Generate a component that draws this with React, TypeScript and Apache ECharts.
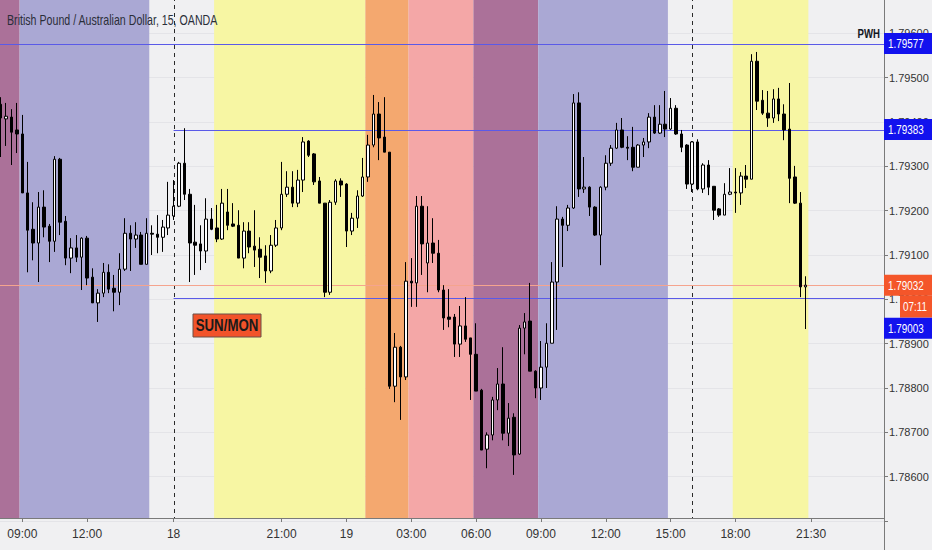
import React, { useEffect, useRef } from "react";
import * as echarts from "echarts";

const FONT = "'Liberation Sans', Arial, sans-serif";

// 15-minute candles, GBP/AUD
const opens = [
  1.79440, 1.79407, 1.79411, 1.79382, 1.79373, 1.79240, 1.79158, 1.79127, 1.79208, 1.79165,
  1.79131, 1.79316, 1.79176, 1.79093, 1.79116, 1.79095, 1.79138, 1.79050, 1.78992, 1.79014,
  1.79061, 1.79025, 1.79016, 1.79068, 1.79149, 1.79136, 1.79145, 1.79079, 1.79149, 1.79147,
  1.79140, 1.79161, 1.79188, 1.79210, 1.79307, 1.79237, 1.79129, 1.79125, 1.79109, 1.79181,
  1.79161, 1.79136, 1.79197, 1.79170, 1.79167, 1.79093, 1.79154, 1.79120, 1.79113, 1.79098,
  1.79064, 1.79122, 1.79161, 1.79237, 1.79253, 1.79217, 1.79269, 1.79357, 1.79328, 1.79267,
  1.79217, 1.79016, 1.79219, 1.79267, 1.79260, 1.79154, 1.79183, 1.79233, 1.79276, 1.79348,
  1.79418, 1.79366, 1.79332, 1.78804, 1.78892, 1.78825, 1.79041, 1.79037, 1.79210, 1.79082,
  1.79127, 1.79104, 1.79021, 1.78960, 1.78960, 1.78899, 1.78940, 1.78913, 1.78876, 1.78795,
  1.78662, 1.78694, 1.78773, 1.78809, 1.78698, 1.78734, 1.78651, 1.78935, 1.78951, 1.78838,
  1.78800, 1.78847, 1.78901, 1.79039, 1.79181, 1.79167, 1.79206, 1.79443, 1.79249, 1.79253,
  1.79208, 1.79145, 1.79253, 1.79307, 1.79341, 1.79382, 1.79343, 1.79343, 1.79298, 1.79348,
  1.79355, 1.79411, 1.79375, 1.79395, 1.79384, 1.79431, 1.79373, 1.79348, 1.79260, 1.79355,
  1.79249, 1.79303, 1.79255, 1.79204, 1.79190, 1.79237, 1.79242, 1.79240, 1.79278, 1.79271,
  1.79537, 1.79449, 1.79420, 1.79409, 1.79452, 1.79418, 1.79384, 1.79276, 1.79217, 1.79028,
];
const closes = [
  1.79409, 1.79413, 1.79377, 1.79373, 1.79240, 1.79156, 1.79127, 1.79208, 1.79163, 1.79131,
  1.79316, 1.79174, 1.79093, 1.79116, 1.79095, 1.79138, 1.79048, 1.78992, 1.79014, 1.79061,
  1.79023, 1.79016, 1.79068, 1.79149, 1.79136, 1.79145, 1.79079, 1.79149, 1.79147, 1.79140,
  1.79163, 1.79190, 1.79210, 1.79307, 1.79237, 1.79127, 1.79122, 1.79109, 1.79181, 1.79158,
  1.79136, 1.79217, 1.79167, 1.79165, 1.79093, 1.79154, 1.79118, 1.79111, 1.79095, 1.79064,
  1.79122, 1.79161, 1.79237, 1.79253, 1.79217, 1.79269, 1.79355, 1.79325, 1.79265, 1.79217,
  1.79016, 1.79219, 1.79267, 1.79258, 1.79154, 1.79183, 1.79233, 1.79276, 1.79348, 1.79418,
  1.79364, 1.79332, 1.78804, 1.78892, 1.78825, 1.79041, 1.79037, 1.79210, 1.79125, 1.79127,
  1.79104, 1.79021, 1.78958, 1.78955, 1.78899, 1.78940, 1.78910, 1.78876, 1.78793, 1.78660,
  1.78694, 1.78773, 1.78809, 1.78698, 1.78732, 1.78649, 1.78935, 1.78949, 1.78838, 1.78800,
  1.78847, 1.78901, 1.79039, 1.79181, 1.79167, 1.79206, 1.79443, 1.79249, 1.79253, 1.79208,
  1.79145, 1.79253, 1.79307, 1.79341, 1.79382, 1.79343, 1.79341, 1.79298, 1.79348, 1.79355,
  1.79411, 1.79375, 1.79395, 1.79384, 1.79431, 1.79373, 1.79343, 1.79260, 1.79355, 1.79249,
  1.79303, 1.79253, 1.79201, 1.79190, 1.79237, 1.79242, 1.79240, 1.79278, 1.79271, 1.79537,
  1.79447, 1.79420, 1.79409, 1.79452, 1.79418, 1.79382, 1.79273, 1.79217, 1.79028, 1.79032,
];
const lows = [
  1.79321, 1.79346, 1.79303, 1.79330, 1.79240, 1.79061, 1.79088, 1.79039, 1.79140, 1.79084,
  1.79107, 1.79145, 1.79077, 1.79059, 1.79084, 1.79021, 1.79032, 1.78992, 1.78949, 1.79005,
  1.79014, 1.78973, 1.78987, 1.79064, 1.79064, 1.79116, 1.79079, 1.79079, 1.79100, 1.79104,
  1.79107, 1.79145, 1.79179, 1.79208, 1.79224, 1.79039, 1.79055, 1.79066, 1.79082, 1.79156,
  1.79129, 1.79134, 1.79156, 1.79163, 1.79093, 1.79070, 1.79104, 1.79073, 1.79048, 1.79037,
  1.79059, 1.79118, 1.79156, 1.79231, 1.79208, 1.79208, 1.79242, 1.79321, 1.79258, 1.79217,
  1.79005, 1.79010, 1.79213, 1.79231, 1.79118, 1.79145, 1.79161, 1.79231, 1.79265, 1.79343,
  1.79314, 1.79332, 1.78798, 1.78768, 1.78728, 1.78818, 1.78983, 1.78983, 1.79055, 1.79016,
  1.79082, 1.79016, 1.78931, 1.78937, 1.78870, 1.78870, 1.78904, 1.78773, 1.78793, 1.78660,
  1.78619, 1.78682, 1.78750, 1.78682, 1.78669, 1.78604, 1.78649, 1.78876, 1.78838, 1.78777,
  1.78773, 1.78800, 1.78901, 1.78931, 1.79073, 1.79154, 1.79204, 1.79231, 1.79240, 1.79188,
  1.79143, 1.79077, 1.79246, 1.79301, 1.79339, 1.79341, 1.79314, 1.79289, 1.79298, 1.79321,
  1.79341, 1.79373, 1.79373, 1.79366, 1.79382, 1.79371, 1.79332, 1.79249, 1.79242, 1.79246,
  1.79240, 1.79235, 1.79179, 1.79186, 1.79190, 1.79235, 1.79195, 1.79213, 1.79251, 1.79271,
  1.79427, 1.79416, 1.79389, 1.79398, 1.79402, 1.79359, 1.79217, 1.79215, 1.79005, 1.78933,
];
const highs = [
  1.79456, 1.79443, 1.79429, 1.79443, 1.79416, 1.79310, 1.79219, 1.79242, 1.79246, 1.79170,
  1.79323, 1.79319, 1.79188, 1.79138, 1.79145, 1.79140, 1.79143, 1.79070, 1.79023, 1.79082,
  1.79079, 1.79055, 1.79104, 1.79183, 1.79167, 1.79174, 1.79152, 1.79183, 1.79167, 1.79190,
  1.79179, 1.79265, 1.79269, 1.79310, 1.79386, 1.79249, 1.79213, 1.79167, 1.79228, 1.79206,
  1.79213, 1.79249, 1.79249, 1.79217, 1.79201, 1.79174, 1.79174, 1.79201, 1.79140, 1.79122,
  1.79145, 1.79179, 1.79310, 1.79289, 1.79289, 1.79292, 1.79366, 1.79359, 1.79330, 1.79276,
  1.79217, 1.79224, 1.79271, 1.79273, 1.79262, 1.79195, 1.79246, 1.79319, 1.79371, 1.79461,
  1.79445, 1.79456, 1.79332, 1.78924, 1.78895, 1.79084, 1.79093, 1.79233, 1.79233, 1.79210,
  1.79183, 1.79134, 1.79032, 1.79023, 1.78967, 1.78985, 1.79005, 1.78913, 1.78946, 1.78798,
  1.78700, 1.78780, 1.78845, 1.78892, 1.78766, 1.78743, 1.78942, 1.78969, 1.79037, 1.78840,
  1.78906, 1.78946, 1.79084, 1.79210, 1.79186, 1.79213, 1.79463, 1.79467, 1.79321, 1.79255,
  1.79210, 1.79255, 1.79325, 1.79348, 1.79398, 1.79409, 1.79368, 1.79389, 1.79350, 1.79364,
  1.79420, 1.79438, 1.79438, 1.79470, 1.79454, 1.79438, 1.79382, 1.79350, 1.79357, 1.79361,
  1.79307, 1.79314, 1.79255, 1.79206, 1.79262, 1.79296, 1.79296, 1.79287, 1.79303, 1.79553,
  1.79558, 1.79472, 1.79470, 1.79474, 1.79477, 1.79440, 1.79488, 1.79301, 1.79242, 1.79052,
];

// time axis (bar slots, incl. empty future slots)
const slotCount = 164;
const tickIndex = [4, 16, 32, 52, 64, 76, 88, 100, 112, 124, 136, 150];
const tickText = ["09:00", "12:00", "18", "21:00", "19", "03:00", "06:00", "09:00", "12:00", "15:00", "18:00", "21:30"];

// session background bands (bar index ranges)
const bandFrom = [0, 4, 40, 68, 76, 88, 100, 136];
const bandTo = [4, 28, 68, 76, 88, 100, 124, 150];
const bandColor = ["#ab7199", "#aaa8d4", "#f7f6a3", "#f4a86f", "#f4a7a7", "#ab7199", "#aaa8d4", "#f7f6a3"];

// horizontal levels
const levelPrice = [1.79577, 1.79383, 1.79003];
const levelStart = [0, 32, 32];
const currentPrice = 1.79032;
const countdownText = "07:11";
const sessionBreaks = [32, 128];

const yMin = 1.785;
const yMax = 1.797;
const yStep = 0.001;

const pad = (n: number) => (n < 10 ? "0" + n : "" + n);
function slotTime(i: number): string {
  let day: number;
  let mins: number;
  if (i < 32) { day = 17; mins = 8 * 60 + 15 * i; }
  else if (i < 64) { day = 18; mins = 16 * 60 + 15 * (i - 32); }
  else { day = 19; mins = 15 * (i - 64); }
  day += Math.floor(mins / 1440);
  mins = mins % 1440;
  return `${day} ${pad(Math.floor(mins / 60))}:${pad(mins % 60)}`;
}
const categories = Array.from({ length: slotCount }, (_, i) => slotTime(i));
const tickSet = new Set(tickIndex);
const tickLabel = new Map(tickIndex.map((t, k) => [t, tickText[k]]));

const BLUE_LINE = "#5a5ae8";
const CUR_LINE = "#f5a48e";
const BLUE_BOX = "#1212ee";
const ORANGE_BOX = "#f4562a";

export default function App() {
  const ref = useRef<HTMLDivElement>(null);
  useEffect(() => {
    const el = ref.current!;
    const chart = echarts.init(el, null, { renderer: "svg", width: 932, height: 550 });
    const yMid = (yMin + yMax) / 2;

    const option: any = {
      animation: false,
      backgroundColor: "#f0f0f2",
      grid: { left: -2, right: 48, top: -11, bottom: 29, containLabel: false, outerBoundsMode: "none" },
      xAxis: {
        type: "category",
        data: categories,
        boundaryGap: true,
        offset: -3,
        axisLine: { show: true, onZero: false, lineStyle: { color: "#7a7a7a", width: 1 } },
        axisTick: {
          show: true, alignWithLabel: true, length: 4,
          interval: (i: number) => tickSet.has(i),
          lineStyle: { color: "#7a7a7a" },
        },
        axisLabel: {
          interval: (i: number) => tickSet.has(i),
          formatter: (_v: string, i: number) => tickLabel.get(i) ?? "",
          color: "#333", fontSize: 12, fontFamily: FONT, margin: 10,
        },
        splitLine: { show: false },
      },
      yAxis: {
        type: "value",
        position: "right",
        min: yMin, max: yMax, interval: yStep,
        axisLine: { show: true, lineStyle: { color: "#7a7a7a" } },
        axisTick: { show: true, length: 4, lineStyle: { color: "#7a7a7a" } },
        axisLabel: {
          formatter: (v: number) => (v < 1.7855 || v > 1.7965 ? "" : v.toFixed(5)),
          color: "#333", fontSize: 11, fontFamily: FONT, margin: 5,
        },
        splitLine: { show: true, lineStyle: { color: "#e4e4e8", width: 1 } },
      },
      series: [
        {
          type: "custom",
          name: "sessions",
          z: 1,
          silent: true,
          clip: true,
          data: bandFrom.map((f, k) => [f, yMid, bandTo[k], k]),
          renderItem: (params: any, api: any) => {
            const from = api.value(0);
            const to = api.value(2);
            const k = api.value(3);
            const w = api.size([1, 0])[0];
            const x0 = api.coord([from, yMid])[0] - w / 2;
            const x1 = api.coord([to, yMid])[0] - w / 2;
            const cs = params.coordSys;
            return {
              type: "rect",
              shape: { x: x0, y: cs.y, width: x1 - x0, height: cs.height - 3 },
              style: { fill: bandColor[k] },
            };
          },
        },
        {
          type: "custom",
          name: "breaks",
          z: 2,
          silent: true,
          clip: true,
          data: sessionBreaks.map((b) => [b, yMid]),
          renderItem: (params: any, api: any) => {
            const x = Math.round(api.coord([api.value(0), yMid])[0]) + 0.5;
            const cs = params.coordSys;
            return {
              type: "line",
              shape: { x1: x, y1: cs.y, x2: x, y2: cs.y + cs.height - 3 },
              style: { stroke: "#2a2a2a", lineWidth: 1, lineDash: [4, 4] },
            };
          },
        },
        {
          type: "custom",
          name: "levels",
          z: 3,
          silent: true,
          clip: true,
          data: [
            ...levelPrice.map((p, k) => [levelStart[k], p, 0]),
            [0, currentPrice, 1],
          ],
          renderItem: (params: any, api: any) => {
            const s = api.value(0);
            const pt = api.coord([s, api.value(1)]);
            const cs = params.coordSys;
            const x0 = s === 0 ? cs.x : pt[0];
            const y = Math.round(pt[1]) + 0.5;
            return {
              type: "line",
              shape: { x1: x0, y1: y, x2: cs.x + cs.width, y2: y },
              style: { stroke: api.value(2) === 1 ? CUR_LINE : BLUE_LINE, lineWidth: 1 },
            };
          },
        },
        {
          type: "candlestick",
          name: "GBPAUD",
          z: 5,
          silent: true,
          barWidth: 3,
          data: opens.map((o, i) => [o, closes[i], lows[i], highs[i]]),
          itemStyle: {
            color: "#ffffff", color0: "#000000",
            borderColor: "#000000", borderColor0: "#000000", borderWidth: 1,
          },
        },
      ],
    };
    chart.setOption(option);

    const right = chart.getWidth() - 48;
    const yOf = (p: number) => chart.convertToPixel({ yAxisIndex: 0 }, p) as number;
    const stext = (text: string, x: number, y: number, size: number, sx: number, extra: any) => ({
      type: "text", x, y, scaleX: sx, z: 101, silent: true,
      style: { text, x: 0, y: 0, fontSize: size, fontFamily: FONT, verticalAlign: "middle", ...extra },
    });
    const boxRect = (x: number, y: number, w: number, h: number, fill: string, stroke?: string) => ({
      type: "rect", z: 100, silent: true,
      shape: { x, y, width: w, height: h },
      style: stroke ? { fill, stroke, lineWidth: 1 } : { fill },
    });
    const yPwh = yOf(levelPrice[0]);
    const yPdh = yOf(levelPrice[1]);
    const yCur = yOf(currentPrice);
    const yPdl = Math.max(yOf(levelPrice[2]), yCur + 43);
    const white = { fill: "#ffffff", align: "left" };

    const elements: any[] = [
      stext("British Pound / Australian Dollar, 15, OANDA", 7, 20, 14, 0.76, { fill: "#2a2e39", align: "left" }),
      stext("PWH", right - 4, yPwh - 10, 13, 0.74, { fill: "#131722", fontWeight: "bold", align: "right" }),
      boxRect(right, yPwh - 10.5, 48, 21, BLUE_BOX),
      stext(levelPrice[0].toFixed(5), right + 4, yPwh, 13, 0.76, white),
      boxRect(right, yPdh - 10.5, 48, 21, BLUE_BOX),
      stext(levelPrice[1].toFixed(5), right + 4, yPdh, 13, 0.76, white),
      boxRect(right, yCur - 10.5, 48, 21, ORANGE_BOX),
      stext(currentPrice.toFixed(5), right + 4, yCur, 13, 0.76, white),
      boxRect(right + 16, yCur + 10.5, 32, 22, ORANGE_BOX),
      stext(countdownText, right + 31, yCur + 21.5, 13, 0.76, { fill: "#ffffff", align: "center" }),
      boxRect(right, yPdl - 10.5, 48, 21, BLUE_BOX),
      stext(levelPrice[2].toFixed(5), right + 4, yPdl, 13, 0.76, white),
      boxRect(193, 314, 68, 23, "#f2532a", "#6a5048"),
      stext("SUN/MON", 227, 326, 16, 0.83, { fill: "#1a1a1a", fontWeight: "bold", align: "center" }),
      {
        type: "line", z: 100, silent: true,
        shape: { x1: right + 0.5, y1: 515, x2: right + 0.5, y2: chart.getHeight() },
        style: { stroke: "#7a7a7a", lineWidth: 1 },
      },
    ];
    chart.setOption({ graphic: elements });

    return () => chart.dispose();
  }, []);
  return <div ref={ref} style={{ position: "absolute", left: 0, top: 0, width: 932, height: 550 }} />;
}
